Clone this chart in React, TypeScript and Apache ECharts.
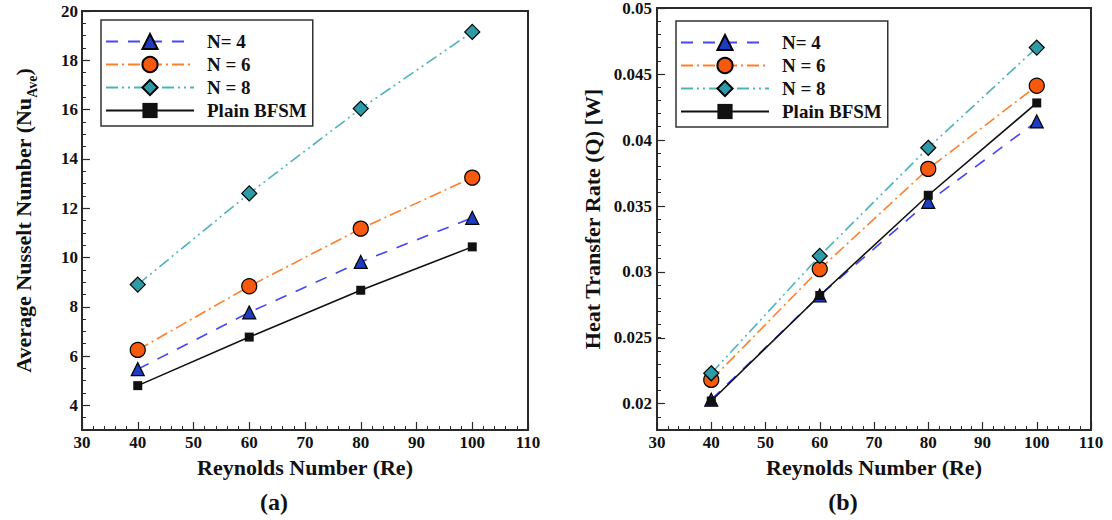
import React, { useEffect, useRef } from "react";
import * as echarts from "echarts";

// ---------- data ----------
const reynolds = [40, 60, 80, 100];
const seriesNames = ["N= 4", "N = 6", "N = 8", "Plain BFSM"];

const nusseltN4 = [5.47, 7.77, 9.82, 11.61];
const nusseltN6 = [6.25, 8.83, 11.17, 13.24];
const nusseltN8 = [8.9, 12.6, 16.04, 19.15];
const nusseltPlain = [4.8, 6.77, 8.67, 10.43];

const heatN4 = [0.0203, 0.0282, 0.0353, 0.0414];
const heatN6 = [0.0218, 0.0302, 0.0378, 0.0441];
const heatN8 = [0.0223, 0.0312, 0.0394, 0.047];
const heatPlain = [0.0202, 0.0282, 0.0358, 0.0428];

const xRange = [30, 110];
const nuRange = [3, 20];
const nuLabelRange = [4, 20];
const qRange = [0.018, 0.05];
const qLabelRange = [0.02, 0.05];

// ---------- styles ----------
const FONT = "Liberation Serif, Times New Roman, serif";
const AXIS_COLOR = "#2a2a2a";
const TEXT_COLOR = "#111";

const styles = [
  { symbol: "triangle", size: 13, line: "#4646f2", fill: "#1d3cc0", dash: [12, 10] },
  { symbol: "circle", size: 15, line: "#ff7f2a", fill: "#f75a0c", dash: [12, 4, 2, 4] },
  { symbol: "diamond", size: 15, line: "#4db3bc", fill: "#2b9ba7", dash: [12, 4, 2, 4, 2, 4] },
  { symbol: "rect", size: 9, line: "#111111", fill: "#111111", dash: "solid" as any },
];

const grids = [
  { left: 82, top: 11, width: 446, height: 419 },
  { left: 657, top: 8, width: 434, height: 422 },
];

function overlayGrid(g: any, range: number[], labelRange: number[]) {
  const h = (g.height * (range[1] - labelRange[0])) / (range[1] - range[0]);
  return { left: g.left, top: g.top, width: g.width, height: h, show: false };
}

function makeSeries(name: string, idx: number, values: number[], axisIndex: number) {
  const s = styles[idx];
  return {
    type: "line",
    name,
    xAxisIndex: axisIndex,
    yAxisIndex: axisIndex,
    data: reynolds.map((r, i) => [r, values[i]]),
    symbol: s.symbol,
    symbolSize: s.size,
    lineStyle: { color: s.line, width: 1.6, type: s.dash },
    itemStyle: { color: s.fill, borderColor: "#000", borderWidth: idx === 3 ? 0 : 1.2 },
    z: 2 + idx,
  };
}

function xAxisFor(gridIndex: number, show: boolean) {
  if (!show) {
    return { type: "value", gridIndex, min: xRange[0], max: xRange[1], show: false };
  }
  return {
    type: "value",
    gridIndex,
    min: xRange[0],
    max: xRange[1],
    interval: 10,
    name: "Reynolds Number (Re)",
    nameLocation: "middle",
    nameGap: 26,
    nameTextStyle: { fontFamily: FONT, fontWeight: "bold", fontSize: 22, color: TEXT_COLOR },
    axisLine: { show: true, lineStyle: { color: AXIS_COLOR, width: 2 } },
    axisTick: { show: true, inside: true, length: 8, lineStyle: { color: AXIS_COLOR, width: 1.2 } },
    minorTick: { show: true, splitNumber: 5, length: 4, lineStyle: { color: AXIS_COLOR, width: 1 } },
    axisLabel: { fontFamily: FONT, fontWeight: "bold", fontSize: 17, color: TEXT_COLOR, margin: 4 },
    splitLine: { show: false },
  };
}

function App() {
  const ref = useRef<HTMLDivElement>(null);
  useEffect(() => {
    if (!ref.current) return;
    const chart = echarts.init(ref.current, undefined, { renderer: "svg" });

    const legendBase = {
      orient: "vertical",
      data: seriesNames,
      itemWidth: 88,
      itemHeight: 19,
      itemGap: 4,
      padding: [12, 6, 6, 4],
      borderColor: "#333",
      borderWidth: 1.5,
      backgroundColor: "#fff",
      selectedMode: false,
      textStyle: {
        fontFamily: FONT,
        fontWeight: "bold",
        fontSize: 19,
        color: TEXT_COLOR,
        padding: [0, 0, 0, 8],
      },
    };

    const option: any = {
      animation: false,
      backgroundColor: "#fff",
      grid: [
        { ...grids[0], show: true, borderColor: AXIS_COLOR, borderWidth: 2, backgroundColor: "transparent" },
        { ...grids[1], show: true, borderColor: AXIS_COLOR, borderWidth: 2, backgroundColor: "transparent" },
        overlayGrid(grids[0], nuRange, nuLabelRange),
        overlayGrid(grids[1], qRange, qLabelRange),
      ],
      xAxis: [xAxisFor(0, true), xAxisFor(1, true), xAxisFor(2, false), xAxisFor(3, false)],
      yAxis: [
        {
          type: "value",
          gridIndex: 0,
          min: nuRange[0],
          max: nuRange[1],
          interval: 0.5,
          name: "{m|Average Nusselt Number (Nu}{s|Ave}{m|)}",
          nameLocation: "middle",
          nameGap: 46,
          nameTextStyle: {
            rich: {
              m: { fontFamily: FONT, fontWeight: "bold", fontSize: 22, color: TEXT_COLOR, lineHeight: 26 },
              s: { fontFamily: FONT, fontWeight: "bold", fontSize: 14, color: TEXT_COLOR, lineHeight: 26, verticalAlign: "bottom", padding: [0, 0, -3, 0] },
            },
          },
          axisLine: { show: true, lineStyle: { color: AXIS_COLOR, width: 2 } },
          axisTick: { show: true, inside: true, length: 4, lineStyle: { color: AXIS_COLOR, width: 1 } },
          axisLabel: { show: false },
          splitLine: { show: false },
        },
        {
          type: "value",
          gridIndex: 1,
          min: qRange[0],
          max: qRange[1],
          interval: 0.001,
          name: "Heat Transfer Rate (Q) [W]",
          nameLocation: "middle",
          nameGap: 54,
          nameTextStyle: { fontFamily: FONT, fontWeight: "bold", fontSize: 22, color: TEXT_COLOR },
          axisLine: { show: true, lineStyle: { color: AXIS_COLOR, width: 2 } },
          axisTick: { show: true, inside: true, length: 4, lineStyle: { color: AXIS_COLOR, width: 1 } },
          axisLabel: { show: false },
          splitLine: { show: false },
        },
        {
          type: "value",
          gridIndex: 2,
          min: nuLabelRange[0],
          max: nuLabelRange[1],
          interval: 2,
          axisLine: { show: false },
          axisTick: { show: true, inside: true, length: 8, lineStyle: { color: AXIS_COLOR, width: 1.2 } },
          axisLabel: { fontFamily: FONT, fontWeight: "bold", fontSize: 17, color: TEXT_COLOR, margin: 4 },
          splitLine: { show: false },
        },
        {
          type: "value",
          gridIndex: 3,
          min: qLabelRange[0],
          max: qLabelRange[1],
          interval: 0.005,
          axisLine: { show: false },
          axisTick: { show: true, inside: true, length: 8, lineStyle: { color: AXIS_COLOR, width: 1.2 } },
          axisLabel: {
            fontFamily: FONT,
            fontWeight: "bold",
            fontSize: 17,
            color: TEXT_COLOR,
            margin: 5,
            formatter: (v: number) => String(parseFloat(v.toFixed(4))),
          },
          splitLine: { show: false },
        },
      ],
      legend: [
        { ...legendBase, left: 101, top: 20 },
        { ...legendBase, left: 676, top: 21 },
      ],
      series: [
        makeSeries(seriesNames[0], 0, nusseltN4, 0),
        makeSeries(seriesNames[1], 1, nusseltN6, 0),
        makeSeries(seriesNames[2], 2, nusseltN8, 0),
        makeSeries(seriesNames[3], 3, nusseltPlain, 0),
        makeSeries(seriesNames[0], 0, heatN4, 1),
        makeSeries(seriesNames[1], 1, heatN6, 1),
        makeSeries(seriesNames[2], 2, heatN8, 1),
        makeSeries(seriesNames[3], 3, heatPlain, 1),
      ],
      graphic: [
        {
          type: "text",
          x: 274,
          y: 502,
          style: {
            text: "(a)",
            font: `bold 24px ${FONT}`,
            fill: TEXT_COLOR,
            textAlign: "center",
            textVerticalAlign: "middle",
          },
        },
        {
          type: "text",
          x: 843,
          y: 502,
          style: {
            text: "(b)",
            font: `bold 24px ${FONT}`,
            fill: TEXT_COLOR,
            textAlign: "center",
            textVerticalAlign: "middle",
          },
        },
      ],
    };

    chart.setOption(option);
    return () => chart.dispose();
  }, []);

  return (
    <div
      ref={ref}
      style={{ position: "fixed", left: 0, top: 0, width: 1112, height: 520, background: "#fff" }}
    />
  );
}

export default App;
